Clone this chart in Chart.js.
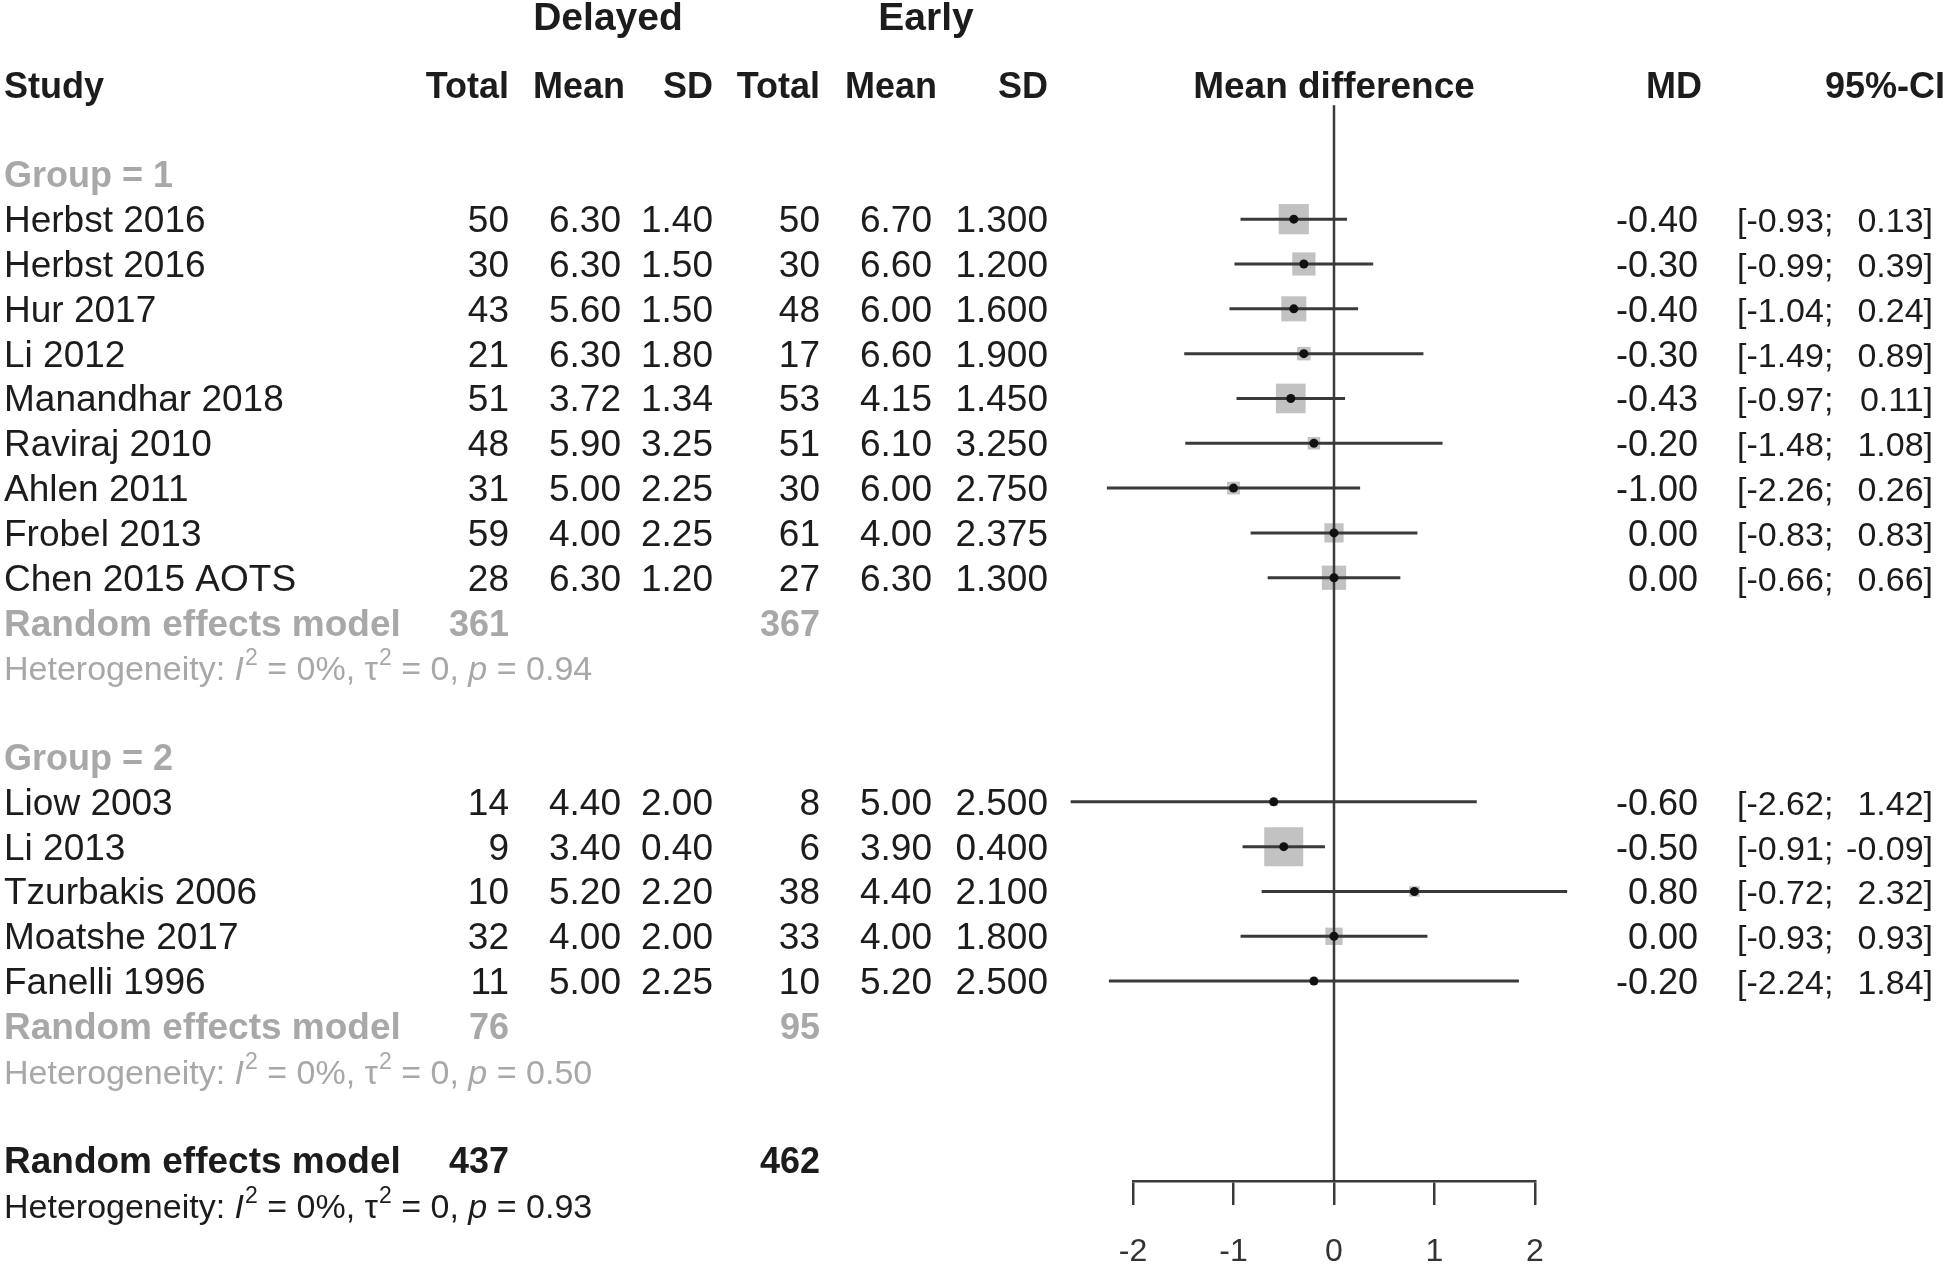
<!DOCTYPE html>
<html>
<head>
<meta charset="utf-8">
<title>Forest plot</title>
<script src="https://cdn.jsdelivr.net/npm/chart.js@4.4.1/dist/chart.umd.min.js"></script>
<style>
  html, body { margin: 0; padding: 0; background: #fff; }
  #forest { display: block; }
</style>
</head>
<body>
<canvas id="forest" width="1946" height="1265"></canvas>
<script>
// study data
const studies = ['Herbst 2016', 'Herbst 2016', 'Hur 2017', 'Li 2012', 'Manandhar 2018', 'Raviraj 2010',
  'Ahlen 2011', 'Frobel 2013', 'Chen 2015 AOTS', 'Liow 2003', 'Li 2013', 'Tzurbakis 2006',
  'Moatshe 2017', 'Fanelli 1996'];
const groupOf = [1, 1, 1, 1, 1, 1, 1, 1, 1, 2, 2, 2, 2, 2];
const delayedTotal = [50, 30, 43, 21, 51, 48, 31, 59, 28, 14, 9, 10, 32, 11];
const delayedMean = [6.30, 6.30, 5.60, 6.30, 3.72, 5.90, 5.00, 4.00, 6.30, 4.40, 3.40, 5.20, 4.00, 5.00];
const delayedSD = [1.40, 1.50, 1.50, 1.80, 1.34, 3.25, 2.25, 2.25, 1.20, 2.00, 0.40, 2.20, 2.00, 2.25];
const earlyTotal = [50, 30, 48, 17, 53, 51, 30, 61, 27, 8, 6, 38, 33, 10];
const earlyMean = [6.70, 6.60, 6.00, 6.60, 4.15, 6.10, 6.00, 4.00, 6.30, 5.00, 3.90, 4.40, 4.00, 5.20];
const earlySD = [1.300, 1.200, 1.600, 1.900, 1.450, 3.250, 2.750, 2.375, 1.300, 2.500, 0.400, 2.100, 1.800, 2.500];
const md = [-0.40, -0.30, -0.40, -0.30, -0.43, -0.20, -1.00, 0.00, 0.00, -0.60, -0.50, 0.80, 0.00, -0.20];
const ciLow = [-0.93, -0.99, -1.04, -1.49, -0.97, -1.48, -2.26, -0.83, -0.66, -2.62, -0.91, -0.72, -0.93, -2.24];
const ciHigh = [0.13, 0.39, 0.24, 0.89, 0.11, 1.08, 0.26, 0.83, 0.66, 1.42, -0.09, 2.32, 0.93, 1.84];
const weights = [14.1, 8.3, 9.7, 2.8, 13.6, 2.4, 2.5, 5.7, 9.1, 1.0, 23.5, 1.7, 4.6, 0.9];

const groupNames = ['Group = 1', 'Group = 2'];
const subTotalDelayed = [361, 76];
const subTotalEarly = [367, 95];
const subHetP = ['0.94', '0.50'];
const allTotalDelayed = 437;
const allTotalEarly = 462;
const allHetP = '0.93';
const xTicks = [-2, -1, 0, 1, 2];

const FONT = '"Liberation Sans", Arial, Helvetica, sans-serif';
const BLACK = '#1c1c1c';
const GREY = '#a8a8a8';
const LINE = '#3a3a3a';

// work out which row each line of the table sits on
const rows = [];
const studyRow = [];
let r = 2;
groupNames.forEach((g, gi) => {
  rows.push({ kind: 'group', row: r++, text: g });
  studies.forEach((s, i) => {
    if (groupOf[i] === gi + 1) {
      studyRow[i] = r;
      rows.push({ kind: 'study', row: r++, i: i });
    }
  });
  rows.push({ kind: 'sub', row: r++, gi: gi });
  rows.push({ kind: 'het', row: r++, p: subHetP[gi], color: GREY });
  r++;
});
rows.push({ kind: 'overall', row: r++ });
rows.push({ kind: 'het', row: r++, p: allHetP, color: BLACK });

const yMin = -1.6;
const yMax = 24.46;
const maxW = Math.max(...weights);

const ciSets = studies.map((s, i) => ({
  data: [{ x: ciLow[i], y: studyRow[i] }, { x: ciHigh[i], y: studyRow[i] }],
  showLine: true,
  borderColor: LINE,
  borderWidth: 3,
  pointRadius: 0,
  clip: false,
  order: 1
}));

const squareSet = {
  data: md.map((v, i) => ({ x: v, y: studyRow[i] })),
  pointStyle: 'rect',
  pointRadius: weights.map(w => 39 * Math.sqrt(w / maxW) / Math.SQRT2),
  backgroundColor: '#c2c2c2',
  borderWidth: 0,
  clip: false,
  order: 3
};

const dotSet = {
  data: md.map((v, i) => ({ x: v, y: studyRow[i] })),
  pointRadius: 4.5,
  backgroundColor: '#111',
  borderWidth: 0,
  order: 0
};

const zeroSet = {
  data: [{ x: 0, y: 0.46 }, { x: 0, y: yMax }],
  showLine: true,
  borderColor: LINE,
  borderWidth: 2.5,
  pointRadius: 0,
  clip: false,
  order: 2
};

function text(ctx, s, x, y, align, weight, color, size) {
  ctx.font = (weight || '') + ' ' + (size || 37) + 'px ' + FONT;
  ctx.fillStyle = color || BLACK;
  ctx.textAlign = align || 'left';
  ctx.textBaseline = 'alphabetic';
  ctx.fillText(s, x, y);
}

function drawHet(ctx, x, y, p, color) {
  const runs = [
    ['Heterogeneity: ', ''], ['I', 'italic'], ['2', 'sup'], [' = 0%, \u03c4', ''], ['2', 'sup'],
    [' = 0, ', ''], ['p', 'italic'], [' = ' + p, '']
  ];
  ctx.save();
  ctx.fillStyle = color;
  ctx.textAlign = 'left';
  ctx.textBaseline = 'alphabetic';
  let cx = x;
  runs.forEach(([t, st]) => {
    if (st === 'sup') {
      ctx.font = '23px ' + FONT;
      ctx.fillText(t, cx + 1, y - 15);
      cx += ctx.measureText(t).width + 1;
    } else {
      ctx.font = (st === 'italic' ? 'italic ' : '') + '34px ' + FONT;
      ctx.fillText(t, cx, y);
      cx += ctx.measureText(t).width;
    }
  });
  ctx.restore();
}

const tablePlugin = {
  id: 'forestTable',
  afterDraw(chart) {
    const ctx = chart.ctx;
    const ys = chart.scales.y;
    const xs = chart.scales.x;
    const base = row => ys.getPixelForValue(row) + 13;

    ctx.save();
    // column headers
    text(ctx, 'Delayed', 608, base(-1.5), 'center', 'bold', BLACK, 39);
    text(ctx, 'Early', 926, base(-1.5), 'center', 'bold', BLACK, 39);
    const h = base(0);
    text(ctx, 'Study', 4, h, 'left', 'bold', BLACK, 36);
    text(ctx, 'Total', 509, h, 'right', 'bold', BLACK, 36);
    text(ctx, 'Mean', 625, h, 'right', 'bold', BLACK, 36);
    text(ctx, 'SD', 713, h, 'right', 'bold', BLACK, 36);
    text(ctx, 'Total', 820, h, 'right', 'bold', BLACK, 36);
    text(ctx, 'Mean', 937, h, 'right', 'bold', BLACK, 36);
    text(ctx, 'SD', 1048, h, 'right', 'bold', BLACK, 36);
    text(ctx, 'Mean difference', xs.getPixelForValue(0), h, 'center', 'bold', BLACK, 37);
    text(ctx, 'MD', 1702, h, 'right', 'bold', BLACK, 36);
    text(ctx, '95%-CI', 1945, h, 'right', 'bold', BLACK, 36);

    rows.forEach(rw => {
      const y = base(rw.row);
      if (rw.kind === 'group') {
        text(ctx, rw.text, 4, y, 'left', 'bold', GREY, 36);
      } else if (rw.kind === 'study') {
        const i = rw.i;
        text(ctx, studies[i], 4, y, 'left');
        text(ctx, String(delayedTotal[i]), 509, y, 'right');
        text(ctx, delayedMean[i].toFixed(2), 621, y, 'right');
        text(ctx, delayedSD[i].toFixed(2), 713, y, 'right');
        text(ctx, String(earlyTotal[i]), 820, y, 'right');
        text(ctx, earlyMean[i].toFixed(2), 932, y, 'right');
        text(ctx, earlySD[i].toFixed(3), 1048, y, 'right');
        text(ctx, md[i].toFixed(2), 1698, y, 'right', '', BLACK, 36);
        text(ctx, '[' + ciLow[i].toFixed(2) + ';', 1737, y, 'left', '', BLACK, 34);
        text(ctx, ciHigh[i].toFixed(2) + ']', 1933, y, 'right', '', BLACK, 34);
      } else if (rw.kind === 'sub') {
        text(ctx, 'Random effects model', 4, y, 'left', 'bold', GREY, 37);
        text(ctx, String(subTotalDelayed[rw.gi]), 509, y, 'right', 'bold', GREY, 36);
        text(ctx, String(subTotalEarly[rw.gi]), 820, y, 'right', 'bold', GREY, 36);
      } else if (rw.kind === 'het') {
        drawHet(ctx, 4, y, rw.p, rw.color);
      } else if (rw.kind === 'overall') {
        text(ctx, 'Random effects model', 4, y, 'left', 'bold', BLACK, 37);
        text(ctx, String(allTotalDelayed), 509, y, 'right', 'bold', BLACK, 36);
        text(ctx, String(allTotalEarly), 820, y, 'right', 'bold', BLACK, 36);
      }
    });
    ctx.restore();
  }
};

new Chart(document.getElementById('forest'), {
  type: 'scatter',
  data: { datasets: [dotSet, ...ciSets, zeroSet, squareSet] },
  options: {
    responsive: false,
    animation: false,
    events: [],
    layout: { autoPadding: false, padding: { left: 1133, right: 411, top: 13, bottom: 0 } },
    plugins: { legend: { display: false }, tooltip: { enabled: false } },
    scales: {
      x: {
        type: 'linear',
        min: -2,
        max: 2,
        position: 'bottom',
        afterBuildTicks: s => { s.ticks = xTicks.map(v => ({ value: v })); },
        afterFit: s => { s.height = 84; },
        ticks: { font: { family: FONT, size: 32 }, color: '#333', padding: 28, maxRotation: 0 },
        grid: { display: true, drawOnChartArea: false, drawTicks: true, tickLength: 24, color: LINE, lineWidth: 2.5 },
        border: { display: true, color: LINE, width: 2.5 }
      },
      y: { type: 'linear', reverse: true, min: yMin, max: yMax, display: false }
    }
  },
  plugins: [tablePlugin]
});
</script>
</body>
</html>
